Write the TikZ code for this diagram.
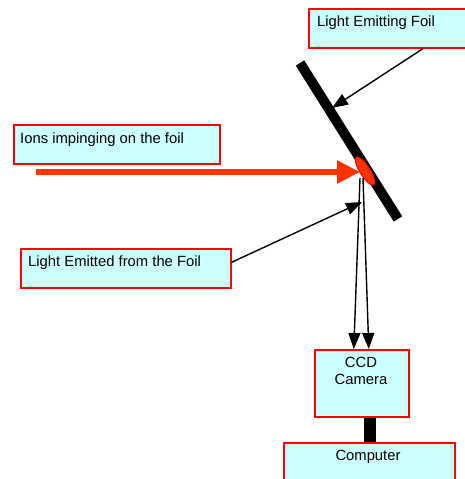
\documentclass[tikz,border=0pt]{standalone}
\usepackage{fontspec}
\setmainfont{Liberation Sans}
\usepackage{tikz}
\usetikzlibrary{calc}
\usetikzlibrary{arrows.meta}
\usetikzlibrary{shapes.geometric}

\definecolor{boxfill}{HTML}{CCFFFF}
\definecolor{ionred}{HTML}{FF3300}

\begin{document}
\begin{tikzpicture}[x=1pt, y=-1pt,
	infobox/.style= {draw=red, line width=1.6pt, fill=boxfill, anchor=north west, inner sep=0pt},
	boxtext/.style= {anchor=base west, inner sep=0pt, font=\fontsize{14.8}{17}\selectfont},
	thinarrow/.style= {line width=1.4pt, arrows=-{Triangle[length=16pt, width=12pt]}}]
	\useasboundingbox (0,0) rectangle (464,479);

	% label boxes
	\node [infobox, minimum width=162pt, minimum height=39pt] (emitting) at (308,8) {};
	\node [boxtext] (emittingtxt) at ($(emitting.north west)+(9,18)$) {Light Emitting Foil};
	\node [infobox, minimum width=206pt, minimum height=39pt] (ions) at (13,124) {};
	\node [boxtext] (ionstxt) at ($(ions.north west)+(7,19)$) {Ions impinging on the foil};
	\node [infobox, minimum width=210pt, minimum height=39pt] (emitted) at (20,248) {};
	\node [boxtext] (emittedtxt) at ($(emitted.north west)+(8,18)$) {Light Emitted from the Foil};

	% camera and computer
	\node [infobox, minimum width=94pt, minimum height=67pt] (cam) at (314,349) {};
	\node [boxtext, anchor=base, align=center] (camtxt) at (361,384) {CCD\\Camera};
	\node [infobox, minimum width=171pt, minimum height=45pt] (comp) at (283,442) {};
	\node [boxtext, anchor=base] (comptxt) at (368,460) {Computer};
	\draw [line width=12pt] ([xshift=8pt]cam.south) -- ([xshift=8pt]cam.south |- comp.north);

	% foil and beam spot
	\coordinate (foiltop) at (300,63);
	\coordinate (foilbot) at (398,219);
	\draw [line width=10pt] (foiltop) -- (foilbot);
	\node [ellipse, draw=red, fill=ionred, line width=1pt, minimum width=33pt, minimum height=10pt, inner sep=0pt, rotate=-57.8] (spot) at (365,171) {};

	% ion beam
	\coordinate (beamstart) at (36,172);
	\coordinate (hit) at (360,172);
	\draw [ionred, line width=6pt, arrows=-{Triangle[length=23pt, width=22pt]}] (beamstart) -- (hit);

	% pointers
	\coordinate (foilpt) at (332,108);
	\coordinate (lightpt) at (362,202);
	\draw [thinarrow] ([xshift=115pt]emitting.south west) -- (foilpt);
	\draw [thinarrow] ([yshift=6pt]emitted.east) -- (lightpt);

	% light to camera
	\coordinate (lighta) at (360,178);
	\coordinate (lightb) at (363,178);
	\draw [thinarrow] (lighta) -- ([xshift=-8pt]cam.north);
	\draw [thinarrow] (lightb) -- ([xshift=7pt]cam.north);
\end{tikzpicture}
\end{document}
